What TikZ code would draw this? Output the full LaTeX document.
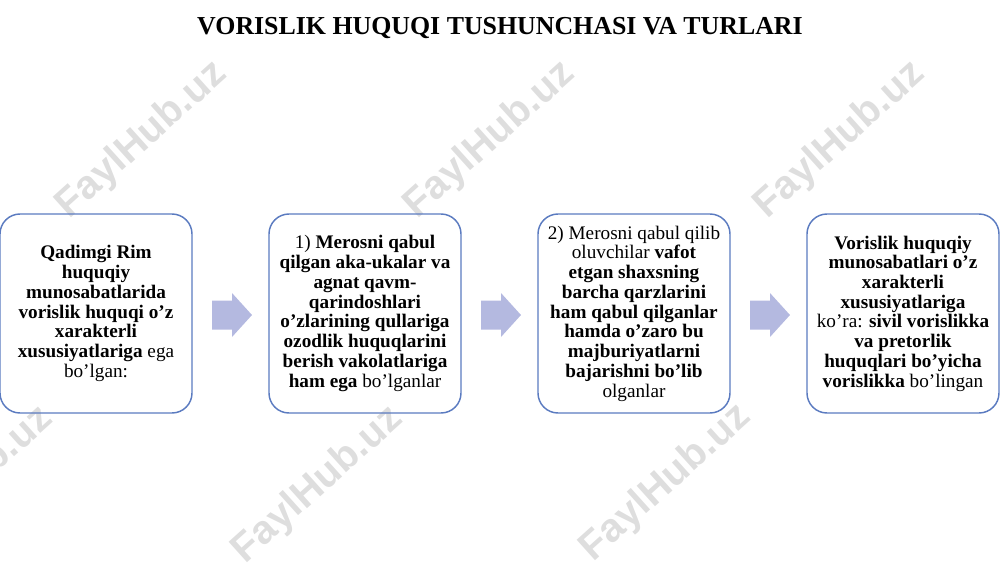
\documentclass[tikz,border=0pt]{standalone}
\usepackage{fontspec}
\setmainfont{Liberation Serif}
\newfontfamily\wmfont{Liberation Sans}
\definecolor{boxline}{HTML}{5B7BC0}
\definecolor{arrowfill}{HTML}{B4B9E0}
\definecolor{wmgray}{HTML}{DEDEDE}
\begin{document}
\begin{tikzpicture}[x=0.75pt,y=-0.75pt,
  infobox/.style={draw=boxline,line width=1.1pt,rounded corners=15pt,
    minimum width=144pt,minimum height=149.25pt,inner sep=0pt,
    align=center,font=\fontsize{14.4}{14.8}\selectfont},
  blockarrow/.style={fill=arrowfill,draw=none},
  watermark/.style={text=wmgray,font=\wmfont\bfseries\fontsize{30}{30}\selectfont,rotate=42}]
\useasboundingbox (0,0) rectangle (1000,562);
% watermarks
\node[watermark] (w1) at (142,140) {FaylHub.uz};
\node[watermark] (w2) at (490,140) {FaylHub.uz};
\node[watermark] (w3) at (840,140) {FaylHub.uz};
\node[watermark] (w4) at (318,485) {FaylHub.uz};
\node[watermark] (w5) at (666,483) {FaylHub.uz};
\node[watermark] (w6) at (-32,485) {FaylHub.uz};
% title
\node[font=\bfseries\fontsize{19.4}{20}\selectfont] (title) at (500,28) {VORISLIK HUQUQI TUSHUNCHASI VA TURLARI};
% boxes
\node[infobox] (b1) at (96,313.5) {\textbf{Qadimgi Rim}\\ \textbf{huquqiy}\\ \textbf{munosabatlarida}\\ \textbf{vorislik huquqi o’z}\\ \textbf{xarakterli}\\ \textbf{xususiyatlariga} ega\\ bo’lgan:};
\node[infobox] (b2) at (365,313.5) {1) \textbf{Merosni qabul}\\ \textbf{qilgan aka-ukalar va}\\ \textbf{agnat qavm-}\\ \textbf{qarindoshlari}\\ \textbf{o’zlarining qullariga}\\ \textbf{ozodlik huquqlarini}\\ \textbf{berish vakolatlariga}\\ \textbf{ham ega} bo’lganlar};
\node[infobox] (b3) at (634,313.5) {2) Merosni qabul qilib\\ oluvchilar \textbf{vafot}\\ \textbf{etgan shaxsning}\\ \textbf{barcha qarzlarini}\\ \textbf{ham qabul qilganlar}\\ \textbf{hamda o’zaro bu}\\ \textbf{majburiyatlarni}\\ \textbf{bajarishni bo’lib}\\ olganlar};
\node[infobox] (b4) at (903,313.5) {\textbf{Vorislik huquqiy}\\ \textbf{munosabatlari o’z}\\ \textbf{xarakterli}\\ \textbf{xususiyatlariga}\\ ko’ra: \textbf{sivil vorislikka}\\ \textbf{va pretorlik}\\ \textbf{huquqlari bo’yicha}\\ \textbf{vorislikka} bo’lingan};
% block arrows
\foreach \n/\s in {a1/212,a2/481,a3/750}{
  \coordinate (\n) at (\s,315);
  \fill[blockarrow] (\n) ++(0,-14.5) -- ++(20,0) -- ++(0,-7.5) -- ++(20,22) -- ++(-20,22) -- ++(0,-7.5) -- ++(-20,0) -- cycle;
}
\end{tikzpicture}
\end{document}
